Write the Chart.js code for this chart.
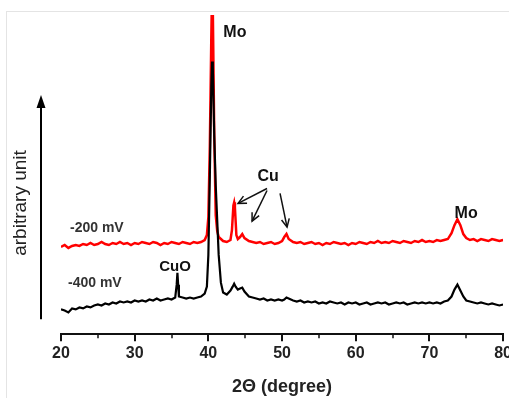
<!DOCTYPE html>
<html>
<head>
<meta charset="utf-8">
<script src="https://cdn.jsdelivr.net/npm/chart.js@4"></script>
<style>
    body { margin: 0; overflow: hidden; background: #fff; }
    #wrap { position: relative; width: 522px; height: 398px; }
    #frame { position: absolute; left: 6px; top: 11px; right: 0; bottom: 0; border-left: 1px solid #e4e4e4; border-top: 1px solid #e4e4e4; }
</style>
</head>
<body>
<div id="wrap">
    <div id="frame"></div>
    <canvas id="chart"></canvas>
</div>
<script>
const xTicks = [20, 30, 40, 50, 60, 70, 80];
const xMinorTicks = [25, 35, 45, 55, 65, 75];

// [2theta, intensity], -200 mV curve
const red200 = [
    [20, 88], [20.5, 90], [21, 87], [21.5, 89], [22, 90], [22.5, 89], [23, 91], [23.5, 90], [24, 92], [24.5, 90],
    [25, 91], [25.5, 93], [26, 91], [26.5, 90], [27, 92], [27.5, 91], [28, 93], [28.5, 91], [29, 92], [29.5, 90],
    [30, 92], [30.5, 91], [31, 93], [31.5, 92], [32, 91], [32.5, 93], [33, 92], [33.5, 90], [34, 92], [34.5, 91],
    [35, 93], [35.5, 92], [36, 91], [36.5, 93], [37, 92], [37.5, 91], [38, 93], [38.5, 92], [39, 93], [39.5, 95],
    [39.8, 100], [40.0, 118], [40.2, 190], [40.4, 300], [40.5, 345], [40.6, 330], [40.8, 200], [41.0, 120],
    [41.2, 104], [41.4, 98], [41.7, 96], [42, 94], [42.5, 93], [43, 95], [43.2, 105], [43.4, 130], [43.5, 133],
    [43.6, 128], [43.8, 100], [44, 96], [44.3, 98], [44.6, 101], [44.9, 97], [45.5, 94], [46, 93], [46.5, 92],
    [47, 93], [47.5, 91], [48, 92], [48.5, 93], [49, 91], [49.5, 92], [50, 94], [50.3, 98], [50.6, 101],
    [50.9, 96], [51.5, 93], [52, 92], [52.5, 93], [53, 91], [53.5, 92], [54, 93], [54.5, 91], [55, 92], [55.5, 90],
    [56, 92], [56.5, 91], [57, 93], [57.5, 92], [58, 91], [58.5, 92], [59, 90], [59.5, 92], [60, 91], [60.5, 93],
    [61, 92], [61.5, 91], [62, 93], [62.5, 92], [63, 94], [63.5, 92], [64, 93], [64.5, 92], [65, 94], [65.5, 93],
    [66, 92], [66.5, 94], [67, 93], [67.5, 92], [68, 94], [68.5, 93], [69, 95], [69.5, 93], [70, 94], [70.5, 93],
    [71, 95], [71.5, 94], [72, 95], [72.5, 96], [73, 102], [73.4, 110], [73.8, 116], [74.2, 110], [74.6, 101],
    [75, 97], [75.5, 95], [76, 96], [76.5, 94], [77, 96], [77.5, 95], [78, 94], [78.5, 96], [79, 95], [79.5, 94], [80, 95]
];

// -400 mV curve
const black400 = [
    [20, 25], [20.5, 24], [21, 22], [21.5, 26], [22, 25], [22.5, 27], [23, 26], [23.5, 28], [24, 27], [24.5, 29],
    [25, 30], [25.5, 29], [26, 31], [26.5, 30], [27, 32], [27.5, 31], [28, 33], [28.5, 32], [29, 33], [29.5, 32],
    [30, 34], [30.5, 33], [31, 34], [31.5, 33], [32, 35], [32.5, 34], [33, 36], [33.5, 34], [34, 35], [34.5, 36],
    [35, 35], [35.5, 37], [35.7, 50], [35.8, 62], [35.9, 50], [36, 38], [36.5, 37], [37, 36], [37.5, 37], [38, 36],
    [38.5, 37], [39, 38], [39.5, 41], [39.8, 48], [40.0, 80], [40.2, 160], [40.4, 250], [40.5, 275], [40.6, 270],
    [40.8, 200], [41.0, 150], [41.2, 115], [41.4, 80], [41.7, 52], [42, 42], [42.5, 40], [43, 44], [43.3, 48],
    [43.5, 51], [43.7, 48], [44, 45], [44.3, 46], [44.6, 47], [44.9, 43], [45.5, 38], [46, 37], [46.5, 36],
    [47, 35], [47.5, 36], [48, 34], [48.5, 35], [49, 34], [49.5, 35], [50, 34], [50.3, 35], [50.6, 37], [50.9, 36],
    [51.5, 34], [52, 33], [52.5, 34], [53, 32], [53.5, 33], [54, 32], [54.5, 33], [55, 31], [55.5, 32], [56, 31],
    [56.5, 33], [57, 32], [57.5, 31], [58, 32], [58.5, 30], [59, 32], [59.5, 31], [60, 32], [60.5, 30], [61, 31],
    [61.5, 32], [62, 30], [62.5, 31], [63, 32], [63.5, 31], [64, 32], [64.5, 30], [65, 31], [65.5, 32], [66, 31],
    [66.5, 32], [67, 30], [67.5, 31], [68, 32], [68.5, 31], [69, 32], [69.5, 31], [70, 32], [70.5, 31], [71, 32],
    [71.5, 31], [72, 33], [72.5, 34], [73, 38], [73.4, 45], [73.8, 50], [74.2, 44], [74.6, 38], [75, 34], [75.5, 33],
    [76, 32], [76.5, 31], [77, 32], [77.5, 31], [78, 30], [78.5, 31], [79, 30], [79.5, 29], [80, 30]
];

// peak labels, in data coordinates
const peakLabels = [
    { text: 'Mo', x: 43.6, y: 304, font: 'bold 16px Arial, "Liberation Sans"', align: 'center' },
    { text: 'Cu', x: 48.1, y: 159, font: 'bold 16px Arial, "Liberation Sans"', align: 'center' },
    { text: 'Mo', x: 74.98, y: 122, font: 'bold 16px Arial, "Liberation Sans"', align: 'center' },
    { text: 'CuO', x: 35.48, y: 68, font: 'bold 15px Arial, "Liberation Sans"', align: 'center' },
    { text: '-200 mV', x: 21.22, y: 107, font: 'bold 14px Arial, "Liberation Sans"', align: 'left' },
    { text: '-400 mV', x: 20.95, y: 52, font: 'bold 14px Arial, "Liberation Sans"', align: 'left' }
];

// Cu arrows: [fromX, fromY, toX, toY]
const cuArrows = [
    [47.96, 147, 44.03, 132],
    [47.96, 145, 45.93, 114],
    [49.73, 142, 50.68, 108]
];

const toXY = arr => arr.map(p => ({ x: p[0], y: p[1] }));

const decorations = {
    id: 'decorations',
    afterDraw(chart) {
        const c = chart.ctx;
        const xs = chart.scales.x;
        const ys = chart.scales.y;
        const area = chart.chartArea;
        c.save();

        // tick marks below the axis
        c.strokeStyle = '#111';
        c.lineWidth = 2;
        xTicks.forEach(v => {
            const px = Math.round(xs.getPixelForValue(v));
            c.beginPath(); c.moveTo(px, area.bottom); c.lineTo(px, area.bottom + 7); c.stroke();
        });
        c.lineWidth = 1.5;
        xMinorTicks.forEach(v => {
            const px = Math.round(xs.getPixelForValue(v));
            c.beginPath(); c.moveTo(px, area.bottom); c.lineTo(px, area.bottom + 4); c.stroke();
        });

        // y arrow
        const ax = area.left - 20;
        c.strokeStyle = '#000';
        c.lineWidth = 2;
        c.beginPath(); c.moveTo(ax, area.bottom - 15); c.lineTo(ax, 104); c.stroke();
        c.fillStyle = '#000';
        c.beginPath(); c.moveTo(ax, 95); c.lineTo(ax - 4.5, 108); c.lineTo(ax + 4.5, 108); c.closePath(); c.fill();

        // y label
        c.save();
        c.translate(21, 203);
        c.rotate(-Math.PI / 2);
        c.font = '19px Arial, "Liberation Sans"';
        c.fillStyle = '#222';
        c.textAlign = 'center';
        c.textBaseline = 'middle';
        c.fillText('arbitrary unit', 0, 0);
        c.restore();

        // peak labels
        c.textBaseline = 'middle';
        peakLabels.forEach(l => {
            c.font = l.font;
            c.textAlign = l.align;
            c.fillStyle = l.align === 'left' ? '#333' : '#111';
            c.fillText(l.text, xs.getPixelForValue(l.x), ys.getPixelForValue(l.y));
        });

        // Cu arrows
        c.strokeStyle = '#111';
        c.lineWidth = 1.5;
        cuArrows.forEach(a => {
            const x1 = xs.getPixelForValue(a[0]), y1 = ys.getPixelForValue(a[1]);
            const x2 = xs.getPixelForValue(a[2]), y2 = ys.getPixelForValue(a[3]);
            const ang = Math.atan2(y2 - y1, x2 - x1);
            c.beginPath(); c.moveTo(x1, y1); c.lineTo(x2, y2); c.stroke();
            c.beginPath();
            c.moveTo(x2 - 9 * Math.cos(ang - 0.45), y2 - 9 * Math.sin(ang - 0.45));
            c.lineTo(x2, y2);
            c.lineTo(x2 - 9 * Math.cos(ang + 0.45), y2 - 9 * Math.sin(ang + 0.45));
            c.stroke();
        });
        c.restore();
    }
};

const ctx = document.querySelector('#chart').getContext('2d');
const chart = new Chart(ctx, {
    type: 'line',
    data: {
        datasets: [
            {
                label: '-400 mV',
                data: toXY(black400),
                borderColor: '#000',
                borderWidth: 2.2,
                pointRadius: 0,
                tension: 0,
                order: 0
            },
            {
                label: '-200 mV',
                data: toXY(red200),
                borderColor: '#ff0000',
                borderWidth: 2.5,
                pointRadius: 0,
                tension: 0,
                order: 1
            }
        ]
    },
    options: {
        responsive: true,
        maintainAspectRatio: false,
        animation: false,
        layout: {
            padding: { left: 61, right: 0, top: 15, bottom: 0 }
        },
        plugins: {
            legend: { display: false },
            tooltip: { enabled: false }
        },
        scales: {
            x: {
                type: 'linear',
                min: 20,
                max: 80,
                grid: { display: false, drawTicks: false },
                border: { display: true, color: '#111', width: 2 },
                ticks: {
                    stepSize: 10,
                    padding: 10,
                    color: '#222',
                    font: { family: 'Arial, "Liberation Sans"', size: 16, weight: 'bold' }
                },
                title: {
                    display: true,
                    text: '2Θ (degree)',
                    color: '#222',
                    padding: { top: 3, bottom: 0 },
                    font: { family: 'Arial, "Liberation Sans"', size: 18, weight: 'bold' }
                }
            },
            y: {
                display: false,
                min: 0,
                max: 322
            }
        }
    },
    plugins: [decorations]
});
</script>
</body>
</html>
